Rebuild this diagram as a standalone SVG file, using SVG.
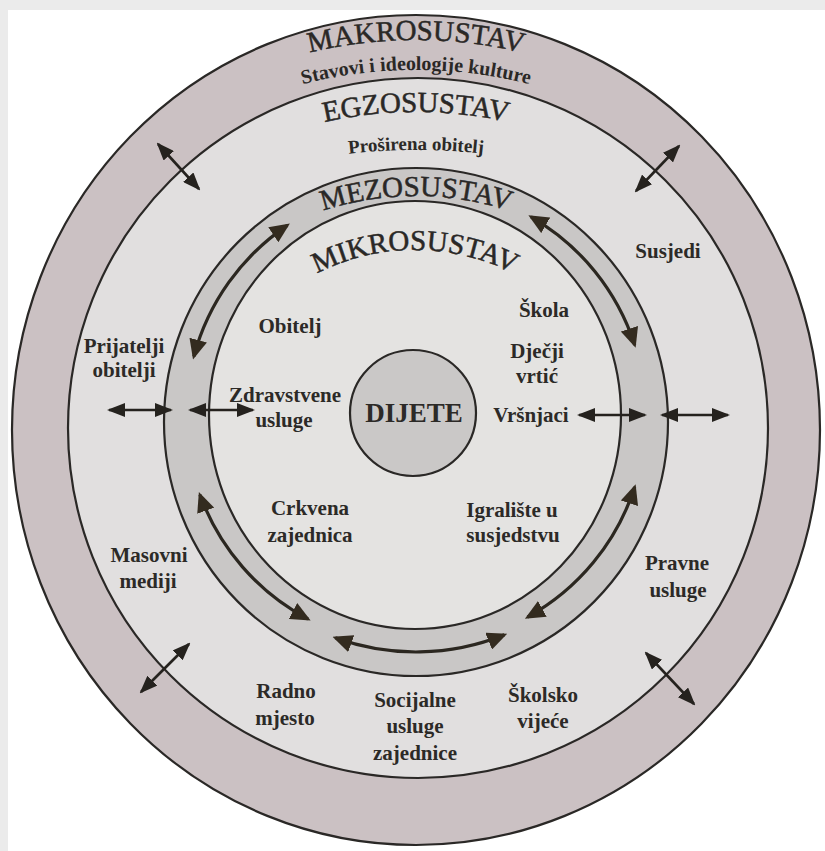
<svg xmlns="http://www.w3.org/2000/svg" width="825" height="851" viewBox="0 0 825 851">
<style>
.ring{stroke:#2a2826;stroke-width:2.2}
.big{font-family:"Liberation Serif","Times New Roman",serif;font-size:29px;fill:#2a2826;stroke:#2a2826;stroke-width:0.5;text-anchor:middle}
.sub{font-family:"Liberation Serif","Times New Roman",serif;font-size:20px;font-weight:bold;fill:#2a2826;text-anchor:middle}
.lbl{font-family:"Liberation Serif","Times New Roman",serif;font-size:21px;font-weight:bold;fill:#2c2a27;text-anchor:middle}
.arc{fill:none;stroke:#2b2720;stroke-width:3.2;marker-start:url(#ha);marker-end:url(#ha)}
.str{fill:none;stroke:#25221e;stroke-width:2.6;marker-start:url(#hs);marker-end:url(#hs)}
</style>
<defs>
<marker id="ha" markerUnits="userSpaceOnUse" markerWidth="20" markerHeight="18" viewBox="0 0 20 18" refX="17" refY="9" orient="auto-start-reverse">
<path d="M0,0 L20,9 L0,18 Z" fill="#332b1f"/>
</marker>
<marker id="hs" markerUnits="userSpaceOnUse" markerWidth="18" markerHeight="14" viewBox="0 0 18 14" refX="16" refY="7" orient="auto-start-reverse">
<path d="M0,0 L18,7 L0,14 Z" fill="#25221e"/>
</marker>
<path id="pMakro" d="M -34 490 A 450 450 0 0 1 866 490"/>
<path id="pStav" d="M -44 530 A 460 460 0 0 1 876 530"/>
<path id="pEgzo" d="M -4 532 A 420 420 0 0 1 836 532"/>
<path id="pPros" d="M -184 750 A 600 600 0 0 1 1016 750"/>
<path id="pMezo" d="M 116 496 A 300 300 0 0 1 716 496"/>
<path id="pMikro" d="M 199 466 A 216 216 0 0 1 631 466"/>
</defs>

<rect x="0" y="0" width="825" height="851" fill="#ffffff"/>
<rect x="0" y="0" width="825" height="10" fill="#ebebeb"/>
<rect x="0" y="0" width="8" height="851" fill="#ebebeb"/>

<g id="makrosustav">
<ellipse class="ring" cx="416" cy="430" rx="404" ry="415" fill="#cbc1c3"/>
<text class="big"><textPath href="#pMakro" startOffset="50%">MAKROSUSTAV</textPath></text>
<text class="sub"><textPath href="#pStav" startOffset="50%">Stavovi i ideologije kulture</textPath></text>
</g>

<g id="egzosustav">
<circle class="ring" cx="418" cy="428" r="350" fill="#e1dfdf"/>
<text class="big"><textPath href="#pEgzo" startOffset="50%">EGZOSUSTAV</textPath></text>
<text class="lbl" style="font-size:19px"><textPath href="#pPros" startOffset="50%">Proširena obitelj</textPath></text>
</g>

<g id="mezosustav">
<ellipse class="ring" cx="416" cy="422" rx="252" ry="254" fill="#c9c7c6"/>
<text class="big"><textPath href="#pMezo" startOffset="50%">MEZOSUSTAV</textPath></text>
</g>

<g id="mikrosustav">
<ellipse class="ring" cx="415" cy="415" rx="206" ry="214" fill="#e4e3e1"/>
<text class="big"><textPath href="#pMikro" startOffset="50%">MIKROSUSTAV</textPath></text>
</g>

<g id="dijete">
<circle class="ring" cx="413" cy="413" r="63" fill="#cac8c7"/>
<text class="lbl" x="414" y="422" style="font-size:27px">DIJETE</text>
</g>

<g id="labels-mikro">
<text class="lbl" x="290" y="333">Obitelj</text>
<text class="lbl" x="285" y="402">Zdravstvene</text>
<text class="lbl" x="284" y="427">usluge</text>
<text class="lbl" x="544" y="317">Škola</text>
<text class="lbl" x="537" y="358">Dječji</text>
<text class="lbl" x="537" y="383">vrtić</text>
<text class="lbl" x="531" y="422">Vršnjaci</text>
<text class="lbl" x="310" y="515">Crkvena</text>
<text class="lbl" x="310" y="542">zajednica</text>
<text class="lbl" x="512" y="517">Igralište u</text>
<text class="lbl" x="513" y="542">susjedstvu</text>
</g>

<g id="labels-egzo">
<text class="lbl" x="668" y="258">Susjedi</text>
<text class="lbl" x="124" y="353">Prijatelji</text>
<text class="lbl" x="124" y="377">obitelji</text>
<text class="lbl" x="149" y="562">Masovni</text>
<text class="lbl" x="148" y="588">mediji</text>
<text class="lbl" x="677" y="570">Pravne</text>
<text class="lbl" x="678" y="597">usluge</text>
<text class="lbl" x="286" y="698">Radno</text>
<text class="lbl" x="285" y="725">mjesto</text>
<text class="lbl" x="415" y="707">Socijalne</text>
<text class="lbl" x="415" y="733">usluge</text>
<text class="lbl" x="415" y="760">zajednice</text>
<text class="lbl" x="543" y="702">Školsko</text>
<text class="lbl" x="543" y="728">vijeće</text>
</g>

<g id="connectors">
<path class="arc" d="M 193.8 356.5 A 230 230 0 0 1 287.4 225.3"/>
<path class="arc" d="M 531 216.8 A 230 230 0 0 1 634.7 344.9"/>
<path class="arc" d="M 634.7 487.1 A 230 230 0 0 1 527.5 617.2"/>
<path class="arc" d="M 504.4 634.8 A 236 236 0 0 1 335.3 637.8"/>
<path class="arc" d="M 308 619 A 230 230 0 0 1 199.9 494.7"/>
<path class="str" d="M 109 410 L 171 410"/>
<path class="str" d="M 190 410 L 253 410"/>
<path class="str" d="M 579 415 L 645 415"/>
<path class="str" d="M 662 415 L 728 415"/>
<path class="str" d="M 158 144 L 199 189"/>
<path class="str" d="M 679 146 L 636 191"/>
<path class="str" d="M 189 644 L 141 692"/>
<path class="str" d="M 646 653 L 694 704"/>
</g>
</svg>
